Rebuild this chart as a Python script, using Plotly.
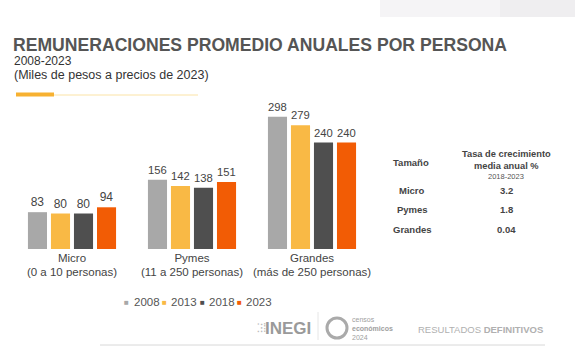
import plotly.graph_objects as go

categories = ["Micro<br>(0 a 10 personas)", "Pymes<br>(11 a 250 personas)", "Grandes<br>(más de 250 personas)"]
years = ["2008", "2013", "2018", "2023"]
values = {
    "2008": [83, 156, 298],
    "2013": [80, 142, 279],
    "2018": [80, 138, 240],
    "2023": [94, 151, 240],
}
colors = {"2008": "#A8A8A8", "2013": "#F9B945", "2018": "#4F4F4F", "2023": "#F25C05"}

table_sizes = ["Micro", "Pymes", "Grandes"]
table_rates = ["3.2", "1.8", "0.04"]

W, H = 575, 349
FONT = "Liberation Sans, Arial, sans-serif"
fig = go.Figure()
for y in years:
    fig.add_trace(go.Bar(
        x=categories, y=values[y], name=y,
        marker=dict(color=colors[y], line=dict(width=0)),
        text=[str(v) for v in values[y]], textposition="outside",
        textfont=dict(size=12, color="#444444", family=FONT), cliponaxis=False,
    ))

fig.update_layout(
    width=W, height=H,
    margin=dict(l=12, r=203, t=107, b=100),
    paper_bgcolor="#FFFFFF", plot_bgcolor="rgba(0,0,0,0)",
    barmode="group", bargap=0.233, bargroupgap=0.17,
    font=dict(family=FONT, color="#444444", size=11),
    showlegend=False,
    xaxis=dict(showgrid=False, showline=False, ticks="", zeroline=False,
               tickfont=dict(size=11.5, color="#444444", family=FONT)),
    yaxis=dict(visible=False, range=[0, 320]),
)

ann = []
shapes = []


def py(y):
    return (249 - y) / 142.0


def px(x):
    return (x - 12) / 360.0


def text(t, x, y, size, color="#444444", xa="center", align="center"):
    ann.append(dict(text=t, x=px(x), y=py(y), xref="paper", yref="paper",
                    xanchor=xa, yanchor="middle", showarrow=False, align=align,
                    font=dict(size=size, color=color, family=FONT)))


# faint top band
shapes.append(dict(type="rect", xref="paper", yref="paper", x0=px(380), x1=px(580), y0=py(17), y1=py(-5),
                   fillcolor="#F5F4F6", line=dict(width=0), layer="below"))
shapes.append(dict(type="rect", xref="paper", yref="paper", x0=px(500), x1=px(580), y0=py(17), y1=py(-5),
                   fillcolor="#EFEEF0", line=dict(width=0), layer="below"))

text("<b>REMUNERACIONES PROMEDIO ANUALES POR PERSONA</b>", 11, 45, 17.6, "#555555", "left")
text("2008-2023", 12, 61, 12, "#333333", "left")
text("(Miles de pesos a precios de 2023)", 12, 75, 12.5, "#333333", "left")

# orange accent line
shapes.append(dict(type="line", xref="paper", yref="paper", x0=px(54), x1=px(198), y0=py(95), y1=py(95),
                   line=dict(color="#FBE3A6", width=1)))
shapes.append(dict(type="rect", xref="paper", yref="paper", x0=px(16), x1=px(54), y0=py(96.5), y1=py(92.5),
                   fillcolor="#F7B131", line=dict(width=0)))

# legend as text
leg_sq = [127, 164, 202, 239]
for yr, sx in zip(years, leg_sq):
    text("■", sx, 302, 8, colors[yr], "center")
    text(yr, sx + 5, 302, 11.5, "#555555", "left")

# table
text("<b>Tamaño</b>", 411, 162, 9.5)
text("<b>Tasa de crecimiento</b>", 506, 154, 9.3)
text("<b>media anual %</b>", 506, 166, 9.3)
text("2018-2023", 506, 176, 7.5, "#555555")
for i, (s, r) in enumerate(zip(table_sizes, table_rates)):
    yy = 190 + i * 19.5
    text(f"<b>{s}</b>", 412, yy, 9.5)
    text(f"<b>{r}</b>", 506, yy, 9.5)

# footer logos as text
text("<b>INEGI</b>", 313, 328, 17, "#9A9A9A", "right")
text("⁚⁝⁞", 268, 328, 12, "#BBBBBB", "right")
shapes.append(dict(type="line", xref="paper", yref="paper", x0=px(318), x1=px(318), y0=py(312), y1=py(340),
                   line=dict(color="#E6E6E6", width=1)))
shapes.append(dict(type="circle", xref="paper", yref="paper", x0=px(327), x1=px(347), y0=py(338), y1=py(318),
                   line=dict(color="#AAAAAA", width=3)))
text("censos<br><b>económicos</b><br>2024", 350, 328, 7, "#A0A0A0", "left", "left")
text("RESULTADOS <b>DEFINITIVOS</b>", 545, 329, 9.5, "#B0B0B0", "right")
shapes.append(dict(type="line", xref="paper", yref="paper", x0=px(100), x1=px(545), y0=py(345), y1=py(345),
                   line=dict(color="#D8D8D8", width=1)))

fig.update_layout(annotations=ann, shapes=shapes)
fig.write_html("out.html")
